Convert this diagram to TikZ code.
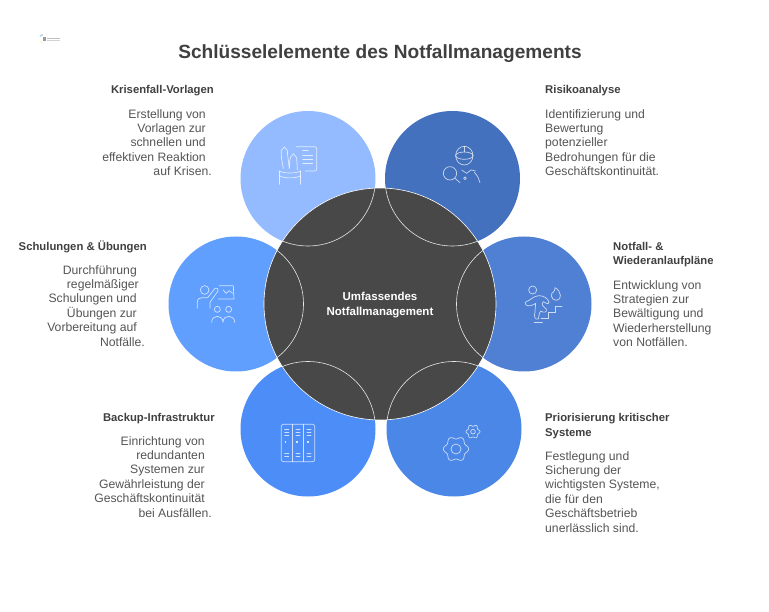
\documentclass[tikz,border=0pt]{standalone}
\usepackage{fontspec}
\setmainfont{Liberation Sans}
\definecolor{cTL}{HTML}{94BBFF}
\definecolor{cTR}{HTML}{4371BD}
\definecolor{cR}{HTML}{5080D4}
\definecolor{cBR}{HTML}{4B87E6}
\definecolor{cBL}{HTML}{4D8DF8}
\definecolor{cL}{HTML}{619FFF}
\definecolor{cC}{HTML}{484848}
\definecolor{cHead}{HTML}{404040}
\definecolor{cBody}{HTML}{555555}
\tikzset{
 sat/.style={circle,minimum size=135pt,inner sep=0pt,fill=#1},
 headr/.style={anchor=base east,align=right,font=\fontsize{11.3}{14.4}\selectfont\bfseries,text=cHead,inner sep=0pt},
 headl/.style={anchor=base west,align=left,font=\fontsize{11.3}{14.4}\selectfont\bfseries,text=cHead,inner sep=0pt},
 bodyr/.style={anchor=north east,align=right,font=\fontsize{12.2}{14.4}\selectfont,text=cBody,inner sep=0pt},
 bodyl/.style={anchor=north west,align=left,font=\fontsize{12.2}{14.4}\selectfont,text=cBody,inner sep=0pt},
 ico/.style={draw=white,draw opacity=.72,line width=.7pt,line cap=round,line join=round,fill=none},
 icoscope/.style={x=.3333pt,y=-.3333pt},
}
\begin{document}
\begin{tikzpicture}[x=1pt,y=-1pt]
\useasboundingbox (0,0) rectangle (769,612);
\fill[white] (0,0) rectangle (769,612);
% logo
\fill[cyan!40] (40.5,36) circle[radius=1];
\fill[violet!40] (42,35) circle[radius=.8];
\fill[gray!80] (43,37) rectangle (46,41);
\fill[yellow!50] (41,42) circle[radius=.8];
\fill[gray!50] (47,38) rectangle (60,39.5);
\fill[gray!35] (47,40) rectangle (60,41.5);
% title
\node[font=\fontsize{19.1}{24}\selectfont\bfseries,text=cHead,inner sep=0pt] (title) at (380,53.5) {Schlüsselelemente des Notfallmanagements};
% satellites
\node[sat=cTL] (tl) at (308,178.5) {};
\node[sat=cTR] (tr) at (452.5,178.5) {};
\node[sat=cR] (r) at (524,304) {};
\node[sat=cBR] (br) at (454,429) {};
\node[sat=cBL] (bl) at (308,429) {};
\node[sat=cL] (l) at (236,304) {};
% centre
\node[circle,minimum size=232pt,inner sep=0pt,fill=cC,draw=white,line width=.6pt] (c) at (380,304) {};
\begin{scope}
\clip (380,304) circle[radius=116];
\foreach \n in {tl,tr,r,br,bl,l} \draw[white,opacity=.85,line width=.6pt] (\n) circle[radius=67.5];
\end{scope}
\node[align=center,font=\fontsize{11.5}{15}\selectfont\bfseries,text=white,inner sep=0pt] (ct) at (380,305.5) {Umfassendes\\Notfallmanagement};
% texts
\node[headr] (h1) at (214,93.5) {Krisenfall-Vorlagen};
\node[bodyr] (b1) at (212,109) {Erstellung von\kern6pt\\Vorlagen zur\kern6pt\\schnellen und\kern6pt\\effektiven Reaktion\kern6pt\\auf Krisen.};
\node[headl] (h2) at (545,93.5) {Risikoanalyse};
\node[bodyl] (b2) at (545,109) {Identifizierung und\\Bewertung\\potenzieller\\Bedrohungen für die\\Geschäftskontinuität.};
\node[headr] (h3) at (147,250.5) {Schulungen \& Übungen};
\node[bodyr] (b3) at (145,265) {Durchführung\kern8pt\\regelmäßiger\kern6pt\\Schulungen und\kern8pt\\Übungen zur\kern8pt\\Vorbereitung auf\kern8pt\\Notfälle.};
\node[headl] (h4) at (613,265) {Notfall- \&\\Wiederanlaufpläne};
\node[bodyl] (b4) at (613,280) {Entwicklung von\\Strategien zur\\Bewältigung und\\Wiederherstellung\\von Notfällen.};
\node[headr] (h5) at (215,421.5) {Backup-Infrastruktur};
\node[bodyr] (b5) at (212,436) {Einrichtung von\kern7pt\\redundanten\kern7pt\\Systemen zur\kern7pt\\Gewährleistung der\kern7pt\\Geschäftskontinuität\kern7pt\\bei Ausfällen.};
\node[headl] (h6) at (545,436) {Priorisierung kritischer\\Systeme};
\node[bodyl] (b6) at (545,451) {Festlegung und\\Sicherung der\\wichtigsten Systeme,\\die für den\\Geschäftsbetrieb\\unerlässlich sind.};
% icon 1
\begin{scope}[shift={(270,135)},icoscope]
\draw[ico] (78,35)--(134,35) to[out=0,in=90] (140,41)--(140,102) to[out=-90,in=0] (134,108)--(106,108);
\draw[ico] (98,47)--(115,47) (98,60)--(128,60) (98,73)--(128,73) (98,86)--(128,86);
\draw[ico] (40,100) .. controls (36,80) and (32,60) .. (34,46) -- (43,36) -- (52,46) .. controls (52,60) and (56,80) .. (58,100);
\draw[ico] (58,100) .. controls (58,85) and (60,75) .. (61,68) -- (70,56) -- (80,68) -- (82,105);
\draw[ico] (28,108)--(28,148) (92,108)--(92,148);
\draw[ico] (28,108) .. controls (40,116) and (80,116) .. (92,108);
\draw[ico] (28,122) .. controls (40,131) and (80,131) .. (92,122);
\end{scope}
% icon 2
\begin{scope}[shift={(435,135)},icoscope]
\draw[ico] (88,62) ellipse[x radius=26,y radius=28];
\draw[ico] (88,62) ellipse[x radius=26,y radius=11];
\draw[ico] (88,34)--(88,51);
\draw[ico] (45,115) circle[radius=20];
\draw[ico] (60,130)--(75,143);
\draw[ico] (80,105)--(95,115)--(108,105)--(122,108);
\draw[ico] (118,112) .. controls (128,122) and (132,132) .. (135,143);
\draw[ico] (90,130) circle[radius=4];
\end{scope}
% icon 3
\begin{scope}[shift={(190,275)},icoscope]
\draw[ico] (44,45) circle[radius=13];
\draw[ico] (22,100)--(22,82) .. controls (22,72) and (28,68) .. (36,68) -- (53,68) -- (75,40) .. controls (80,36) and (88,42) .. (84,48) -- (60,82) -- (60,100);
\draw[ico] (88,32)--(130,32)--(132,72)--(85,72);
\draw[ico] (100,45)--(108,55)--(118,47)--(128,55);
\draw[ico] (82,103) circle[radius=9] (116,103) circle[radius=9];
\draw[ico] (65,142) .. controls (65,118) and (99,118) .. (99,142) .. controls (99,118) and (134,118) .. (134,142);
\end{scope}
% icon 4
\begin{scope}[shift={(515,275)},icoscope]
\draw[ico] (53,45) circle[radius=12];
\draw[ico] (120,38) .. controls (140,48) and (142,76) .. (124,76) .. controls (106,76) and (106,52) .. (116,50) .. controls (118,48) and (120,44) .. (120,38);
\draw[ico] (33,80) .. controls (45,78) and (55,62) .. (72,62) .. controls (85,62) and (100,70) .. (102,82) .. controls (100,90) and (92,84) .. (85,80) .. controls (78,88) and (82,92) .. (94,102) .. controls (98,112) and (85,115) .. (78,108) .. controls (72,112) and (72,125) .. (70,132) .. controls (60,135) and (56,125) .. (60,112) .. controls (60,100) and (62,92) .. (62,85) .. controls (52,92) and (40,95) .. (33,90) .. controls (30,86) and (30,82) .. (33,80);
\draw[ico] (58,143)--(82,143);
\draw[ico] (78,130)--(100,130)--(100,113)--(120,113)--(120,95)--(141,95);
\end{scope}
% icon 5
\begin{scope}[shift={(272,415)},icoscope]
\draw[ico,rounded corners=2pt] (28,28) rectangle (128,140);
\draw[ico] (61,28)--(61,140) (95,28)--(95,140);
\foreach \x in {38,72,105} {
 \foreach \y in {42,52,61,115,125} \draw[ico] (\x,\y)--(\x+12,\y);
 \fill[white,opacity=.8] (\x,78) rectangle (\x+5,83);
}
\end{scope}
% icon 6
\begin{scope}[shift={(435,415)},icoscope]
\draw[ico] (63,102) circle[radius=15];
\draw[ico] plot[smooth cycle,domain=0:355,samples=72] ({63+(34+4*cos(6*\x))*cos(\x)},{102+(34+4*cos(6*\x))*sin(\x)});
\draw[ico] (114,50) circle[radius=7];
\draw[ico] plot[smooth cycle,domain=0:355,samples=72] ({114+(18.5+2.5*cos(6*\x))*cos(\x)},{50+(18.5+2.5*cos(6*\x))*sin(\x)});
\end{scope}
\end{tikzpicture}
\end{document}
